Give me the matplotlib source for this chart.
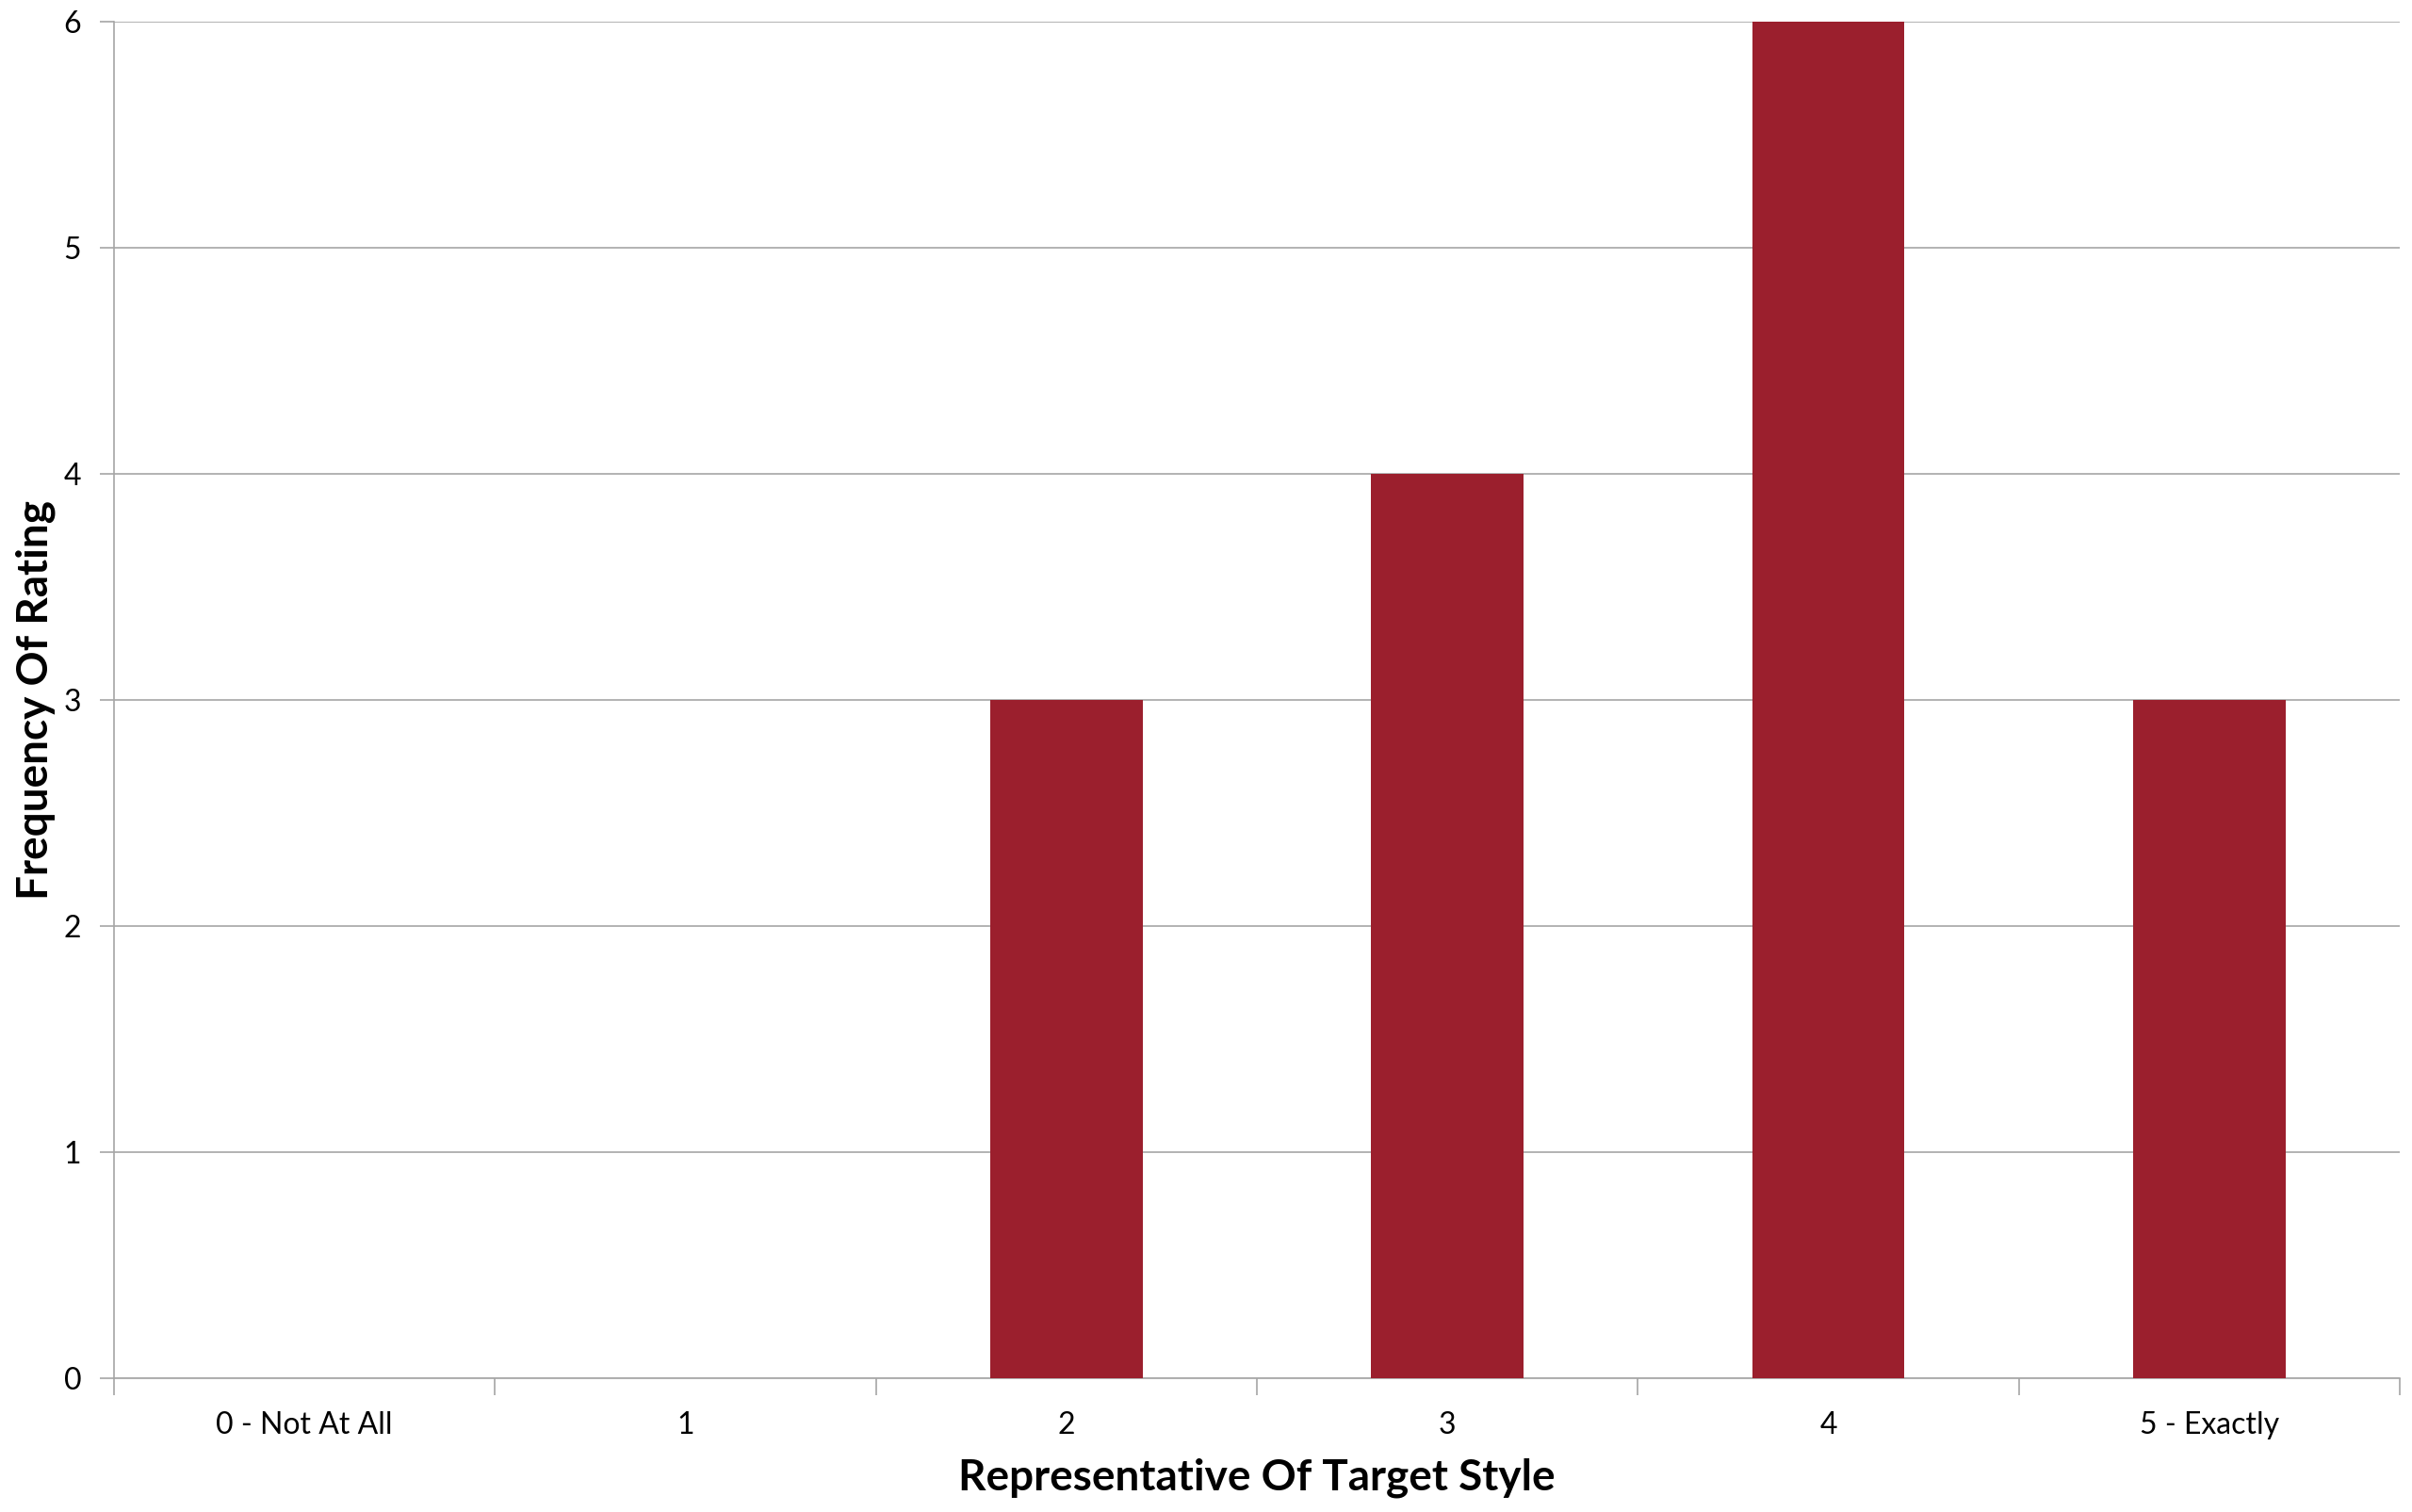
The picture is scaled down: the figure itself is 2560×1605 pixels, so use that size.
import matplotlib
matplotlib.use("Agg")
import matplotlib.pyplot as plt

# --- data ---
categories = ["0 - Not At All", "1", "2", "3", "4", "5 - Exactly"]
counts = [0, 0, 3, 4, 6, 3]
y_ticks = [0, 1, 2, 3, 4, 5, 6]

BAR_COLOR = "#9B1F2D"
GRID_COLOR = "#A6A6A6"

plt.rcParams["font.family"] = ["Lato", "DejaVu Sans"]

fig = plt.figure(figsize=(25.6, 16.05), dpi=100)
ax = fig.add_axes([121 / 2560, 1 - 1463 / 1605, (2547 - 121) / 2560, (1463 - 23) / 1605])

xs = list(range(len(categories)))
ax.bar(xs, counts, width=0.4, color=BAR_COLOR, zorder=3)

ax.set_xlim(-0.5, len(categories) - 0.5)
ax.set_ylim(0, 6)

# category labels in the middle, tick marks on the boundaries
ax.set_xticks(xs)
ax.set_xticklabels(categories, fontsize=23)
ax.tick_params(axis="x", which="major", length=0, pad=25)
ax.set_xticks([x - 0.5 for x in range(len(categories) + 1)], minor=True)
ax.tick_params(axis="x", which="minor", length=13, width=1.2, color=GRID_COLOR)

ax.set_yticks(y_ticks)
ax.tick_params(axis="y", labelsize=23, length=11, width=1.2, color=GRID_COLOR, pad=14)

ax.grid(axis="y", color=GRID_COLOR, linewidth=1.2, zorder=0)
ax.set_axisbelow(True)

for s in ("top", "right"):
    ax.spines[s].set_visible(False)
for s in ("left", "bottom"):
    ax.spines[s].set_color(GRID_COLOR)
    ax.spines[s].set_linewidth(1.2)

ax.set_xlabel("Representative Of Target Style", fontsize=33, fontweight="bold", labelpad=14)
ax.set_ylabel("Frequency Of Rating", fontsize=33, fontweight="bold", labelpad=6)

fig.savefig("out.png", dpi=100)
